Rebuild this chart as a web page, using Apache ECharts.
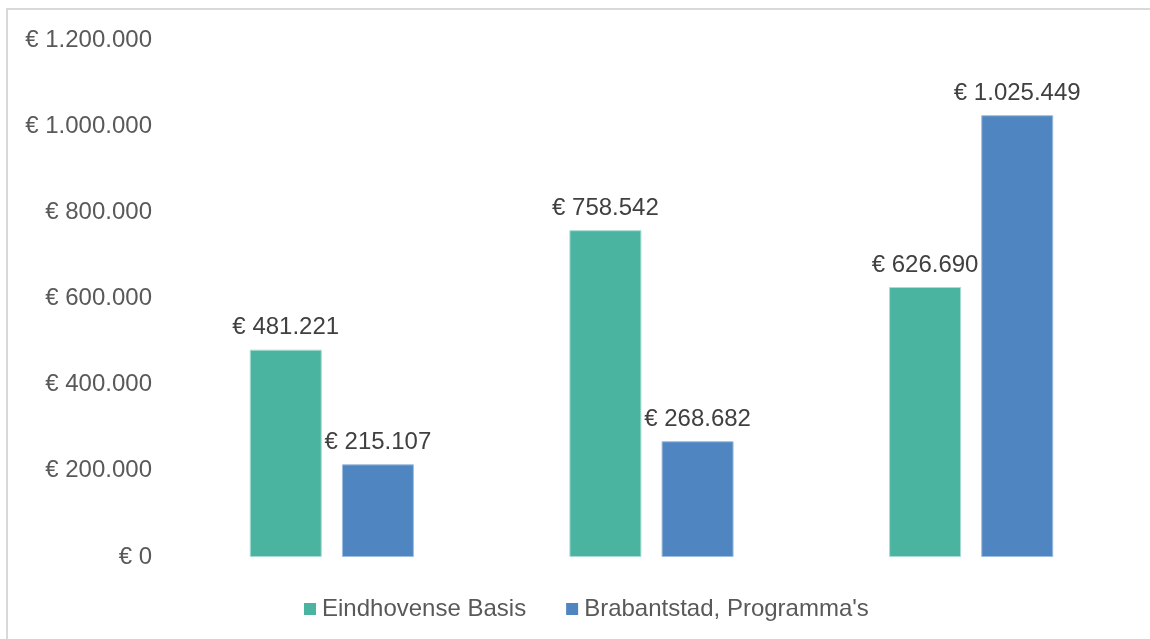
<!DOCTYPE html>
<html lang="nl">
<head>
  <meta charset="UTF-8">
  <title>Eindhovense Basis vs Brabantstad</title>
  <script src="https://cdn.jsdelivr.net/npm/echarts@6/dist/echarts.min.js"></script>
  <style>
    html, body { margin: 0; padding: 0; background: #fff; }
    #chart { width: 1150px; height: 639px; }
  </style>
</head>
<body>
  <div id="chart"></div>
  <script>
    // data
    var categories = ['Groep 1', 'Groep 2', 'Groep 3'];
    var eindhovenseBasis = [481221, 758542, 626690];
    var brabantstad = [215107, 268682, 1025449];
    var seriesNames = ['Eindhovense Basis', "Brabantstad, Programma's"];

    function euro(v) {
      return '€ ' + String(Math.round(v)).replace(/\B(?=(\d{3})+(?!\d))/g, '.');
    }

    var chart = echarts.init(document.getElementById('chart'));
    var labelStyle = {
      show: true,
      position: 'top',
      distance: 10,
      color: '#404040',
      fontSize: 24,
      fontFamily: 'Liberation Sans, Arial, sans-serif',
      formatter: function (p) { return euro(p.value); }
    };

    chart.setOption({
      animation: false,
      textStyle: { fontFamily: 'Liberation Sans, Arial, sans-serif' },
      graphic: [{
        type: 'rect',
        shape: { x: 7, y: 9, width: 1200, height: 700 },
        style: { fill: 'none', stroke: '#d9d9d9', lineWidth: 2 },
        silent: true
      }],
      legend: {
        data: seriesNames,
        left: 299,
        top: 592,
        itemWidth: 12,
        itemHeight: 12,
        itemGap: 40,
        icon: 'rect',
        itemStyle: { borderWidth: 0 },
        textStyle: { color: '#595959', fontSize: 24, padding: [0, 0, 0, 1] }
      },
      grid: { left: 172, right: 19, top: 40, bottom: 82 },
      xAxis: {
        type: 'category',
        data: categories,
        axisLine: { show: false },
        axisTick: { show: false },
        axisLabel: { show: false }
      },
      yAxis: {
        type: 'value',
        min: 0,
        max: 1200000,
        interval: 200000,
        splitLine: { show: false },
        axisLine: { show: false },
        axisTick: { show: false },
        axisLabel: {
          color: '#595959',
          fontSize: 24,
          margin: 20,
          formatter: euro
        }
      },
      series: [
        {
          name: seriesNames[0],
          type: 'bar',
          data: eindhovenseBasis,
          barWidth: 72,
          barGap: '28%',
          itemStyle: { color: '#4bb4a0', borderColor: '#a8ddd2', borderWidth: 1 },
          label: labelStyle
        },
        {
          name: seriesNames[1],
          type: 'bar',
          data: brabantstad,
          barWidth: 72,
          itemStyle: { color: '#4f85c1', borderColor: '#9fbde0', borderWidth: 1 },
          label: labelStyle
        }
      ]
    });
  </script>
</body>
</html>
